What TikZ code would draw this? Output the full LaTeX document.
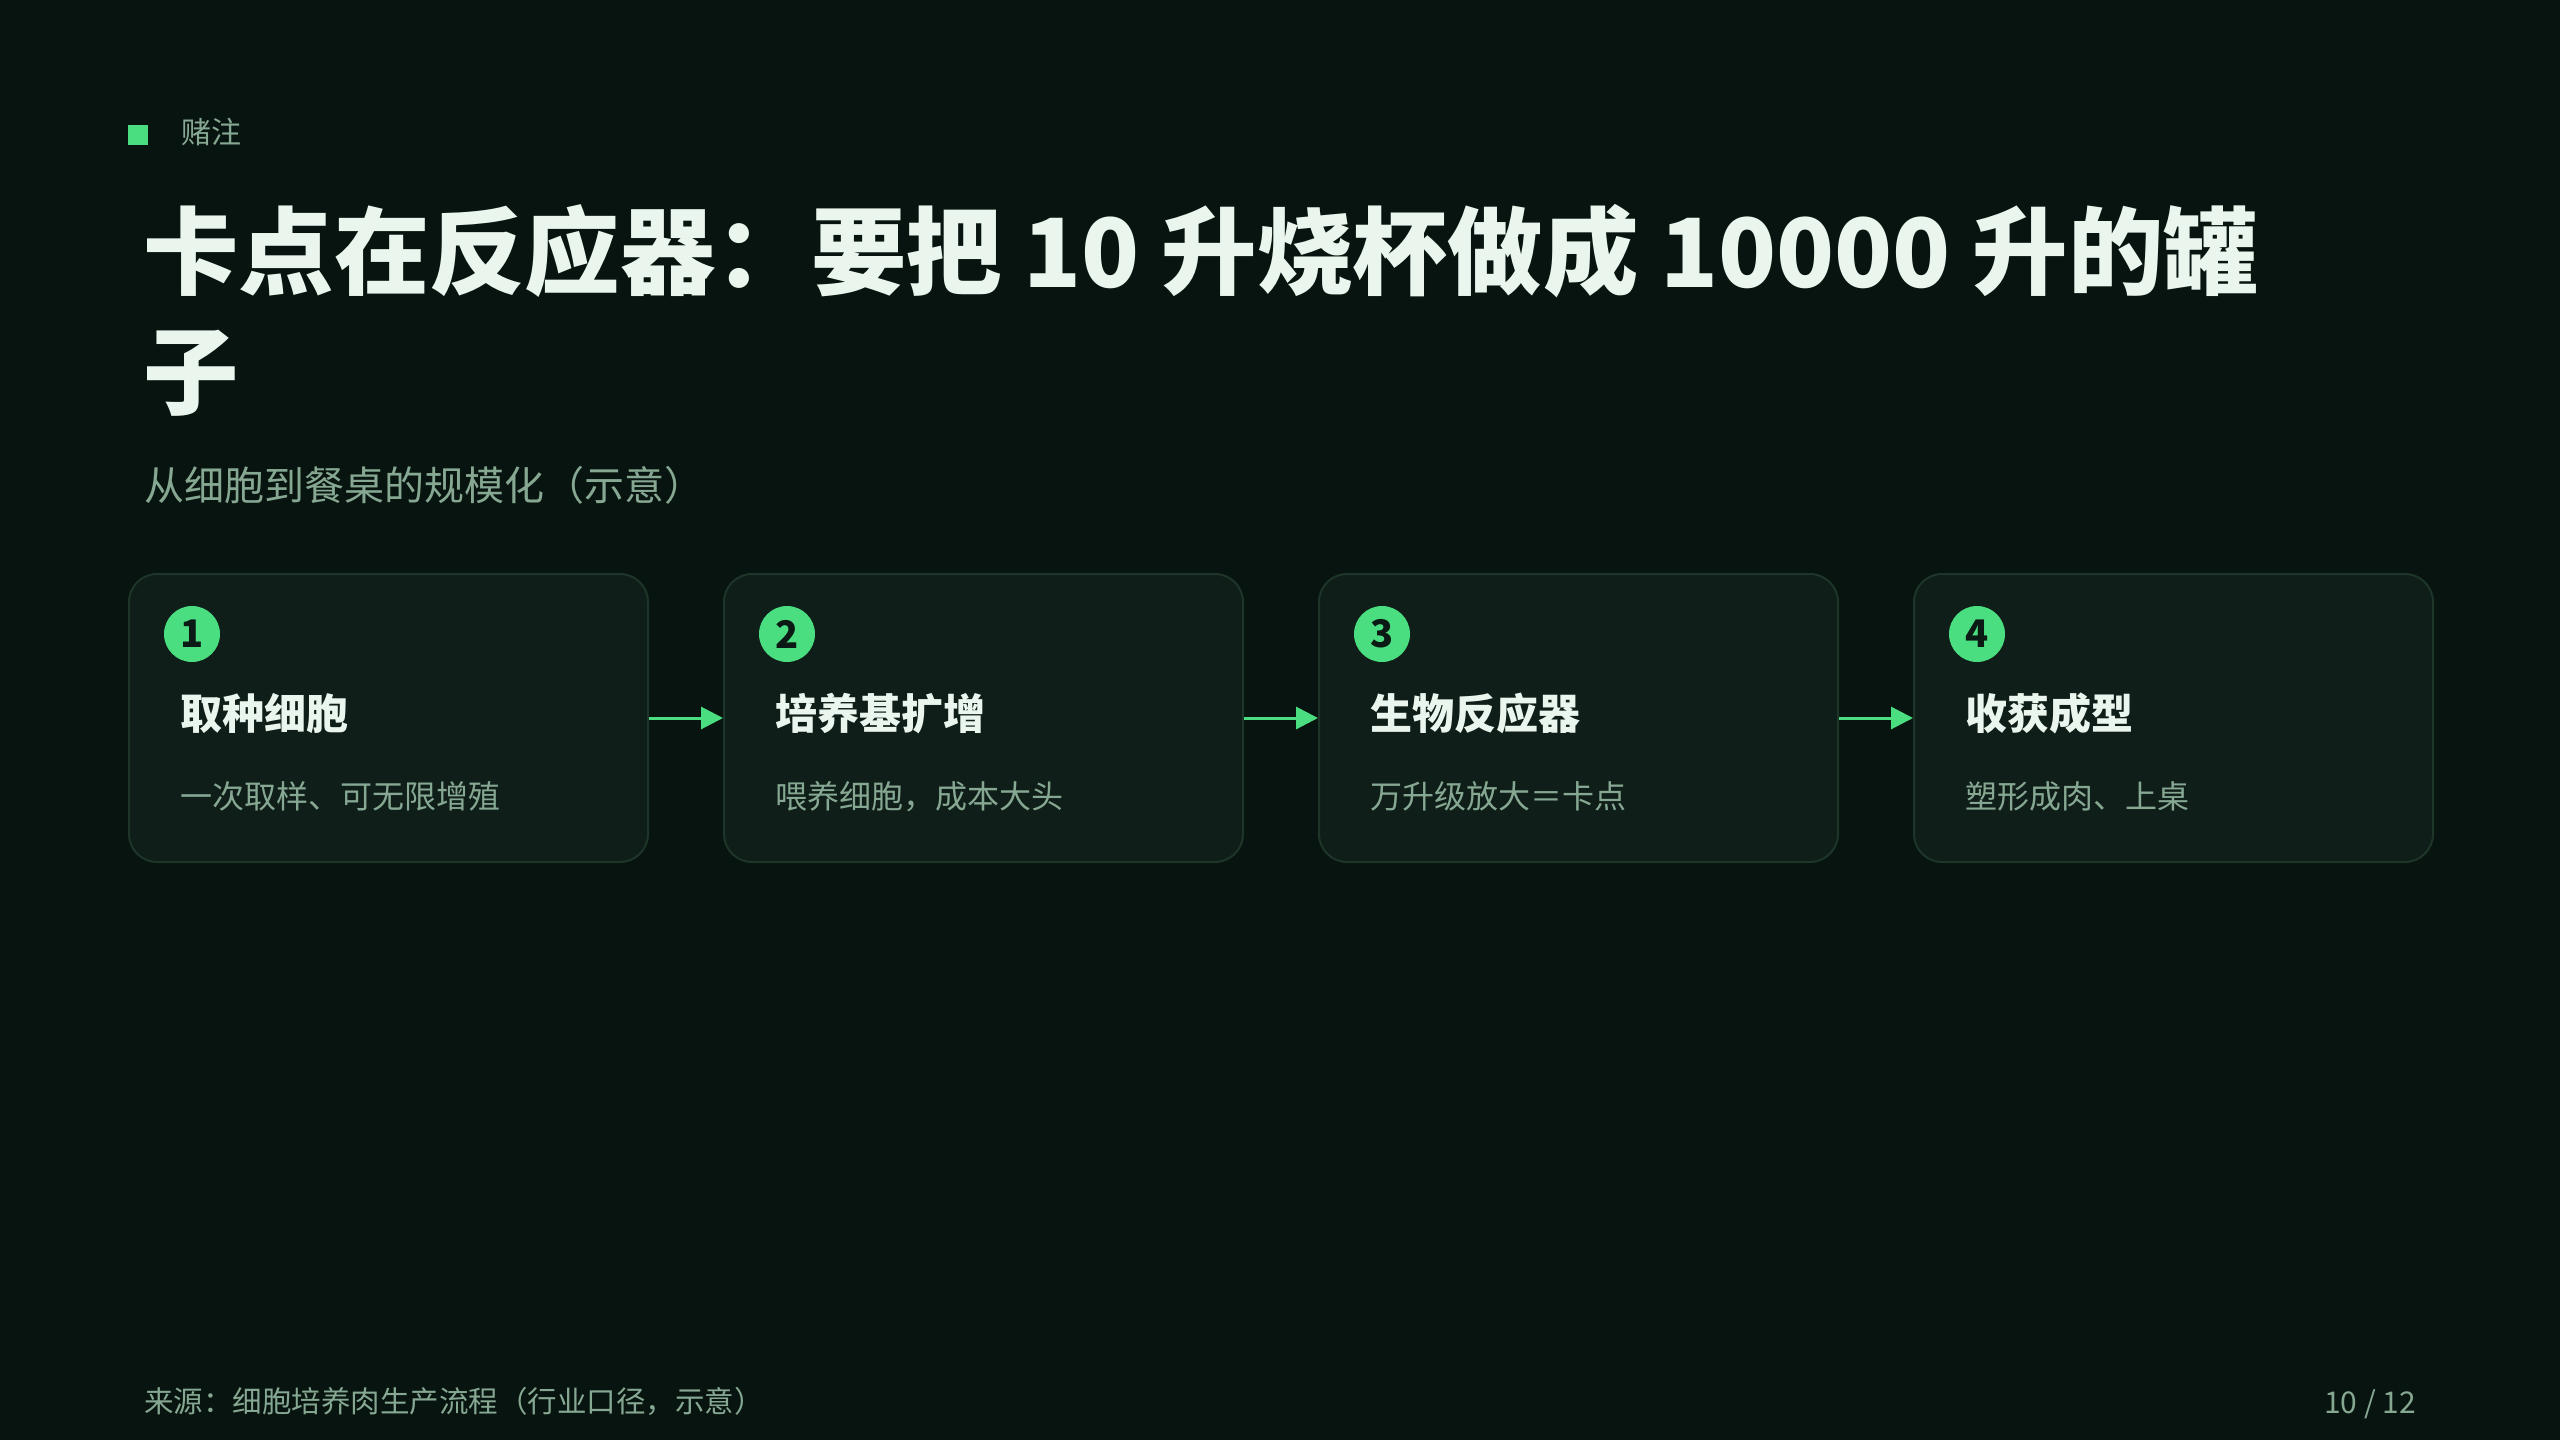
\documentclass[tikz,border=0pt]{standalone}
\usepackage{fontspec}
\setmainfont{Noto Sans CJK SC}
\usetikzlibrary{arrows.meta,calc}
\definecolor{bgc}{HTML}{08140F}
\definecolor{boxfill}{HTML}{0F1E18}
\definecolor{boxline}{HTML}{1E3529}
\definecolor{accent}{HTML}{4ADE80}
\definecolor{titlec}{HTML}{EAF5EE}
\definecolor{mutec}{HTML}{86A893}
\definecolor{badgetxt}{HTML}{0B1A14}
\tikzset{
  stepbox/.style={draw=boxline, line width=2pt, fill=boxfill, rounded corners=28pt,
    minimum width=519pt, minimum height=288pt, inner sep=0pt, anchor=north west},
  badge/.style={circle, fill=accent, minimum size=56pt, inner sep=0pt,
    text=badgetxt, font=\fontsize{38pt}{40pt}\selectfont\bfseries},
  boxtitle/.style={anchor=base west, inner sep=0pt, text=titlec,
    font=\fontsize{42pt}{50pt}\selectfont\bfseries},
  boxsub/.style={anchor=base west, inner sep=0pt, text=mutec,
    font=\fontsize{32pt}{38pt}\selectfont},
  flow/.style={draw=accent, line width=3pt, -{Triangle[length=22pt,width=22pt]}},
  plain/.style={anchor=base west, inner sep=0pt}
}
\begin{document}
\begin{tikzpicture}[x=1pt,y=-1pt]
\fill[bgc] (0,0) rectangle (2560,1440);
\useasboundingbox (0,0) rectangle (2560,1440);

% header
\fill[accent] (128,125) rectangle (148,145);
\node[plain, text=mutec, font=\fontsize{30pt}{36pt}\selectfont] (tag) at (181,143) {赌注};

% title
\node[plain, text=titlec, font=\fontsize{95.4pt}{120pt}\selectfont\bfseries] (title1) at (143,287)
  {卡点在反应器：要把 10 升烧杯做成 10000 升的罐};
\node[plain, text=titlec, font=\fontsize{95.4pt}{120pt}\selectfont\bfseries] (title2) at (143,407) {子};

% subtitle
\node[plain, text=mutec, font=\fontsize{40pt}{48pt}\selectfont] (sub) at (144,500) {从细胞到餐桌的规模化（示意）};

% boxes
\node[stepbox] (b1) at (128,573) {};
\node[stepbox] (b2) at (723,573) {};
\node[stepbox] (b3) at (1318,573) {};
\node[stepbox] (b4) at (1913,573) {};

\foreach \b/\n/\t/\s in {b1/1/取种细胞/一次取样、可无限增殖,
                         b2/2/培养基扩增/喂养细胞，成本大头,
                         b3/3/生物反应器/万升级放大＝卡点,
                         b4/4/收获成型/塑形成肉、上桌}{
  \node[badge] (\b n) at ($(\b.north west)+(64,61)$) {\n};
  \node[boxtitle] (\b t) at ($(\b.north west)+(52,156)$) {\t};
  \node[boxsub] (\b s) at ($(\b.north west)+(52,235)$) {\s};
}

% connectors
\draw[flow] (b1.east) -- (b2.west);
\draw[flow] (b2.east) -- (b3.west);
\draw[flow] (b3.east) -- (b4.west);

% footer
\node[plain, text=mutec, font=\fontsize{29.5pt}{36pt}\selectfont] (src) at (144,1412)
  {来源：细胞培养肉生产流程（行业口径，示意）};
\node[anchor=base east, inner sep=0pt, text=mutec, font=\fontsize{30pt}{36pt}\selectfont] (page) at (2416,1413) {10 / 12};
\end{tikzpicture}
\end{document}
